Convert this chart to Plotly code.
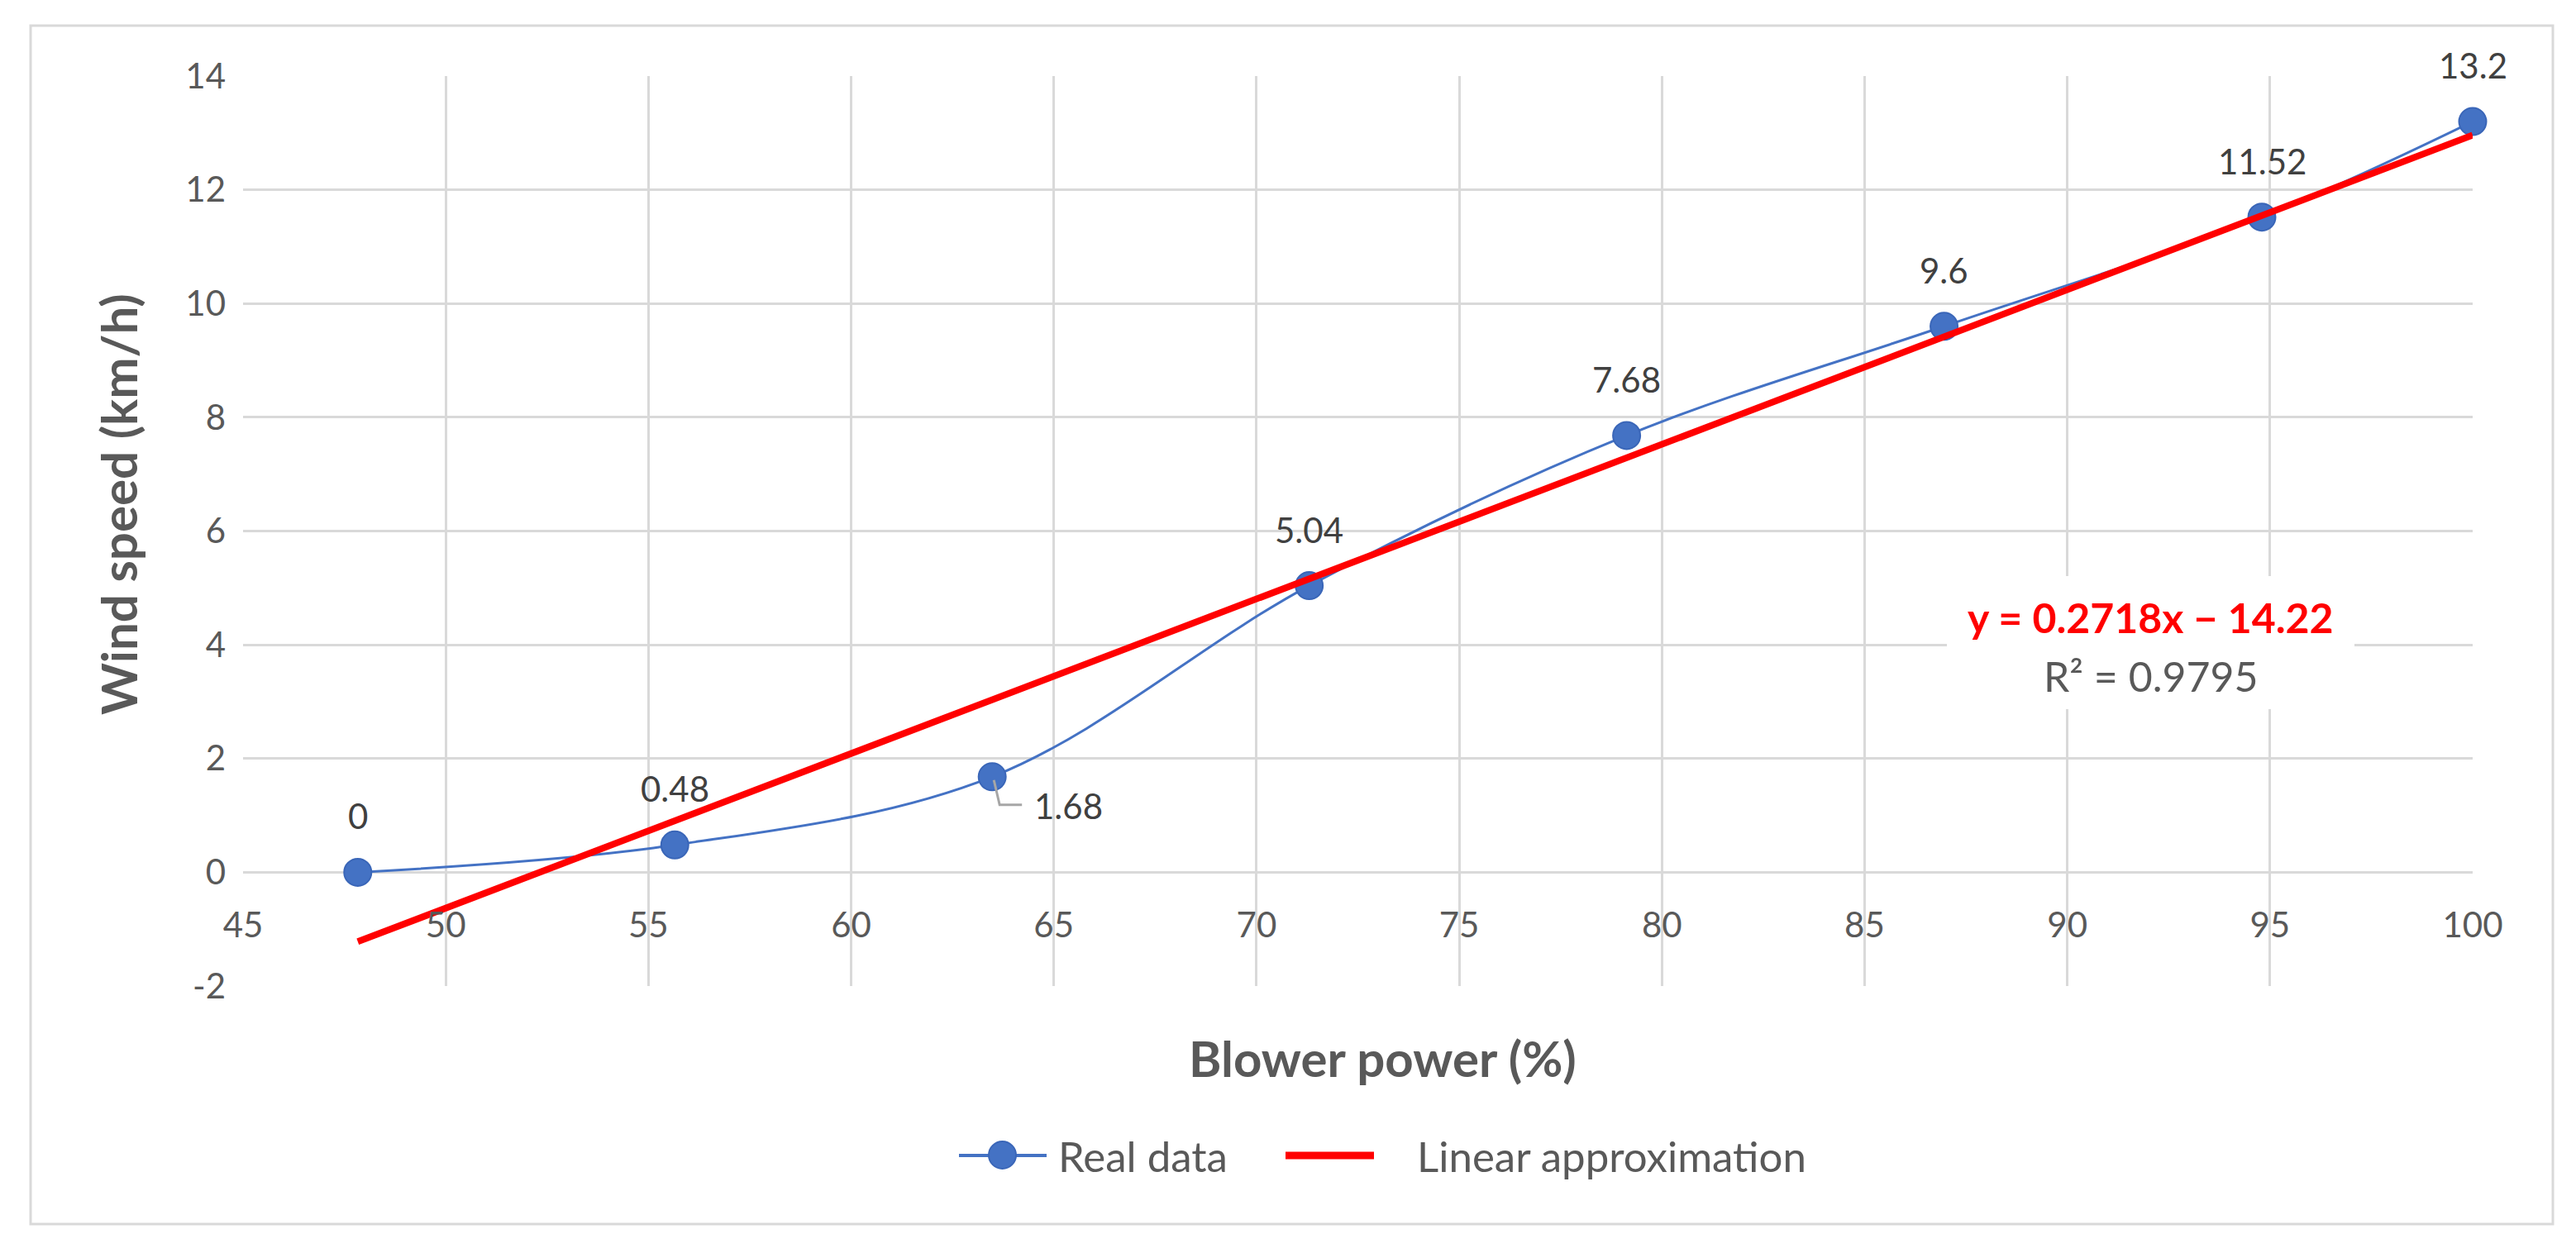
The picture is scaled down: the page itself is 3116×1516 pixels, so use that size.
import plotly.graph_objects as go

# ---------------- data ----------------
blower_power = [47.83, 55.65, 63.48, 71.30, 79.13, 86.96, 94.80, 100.0]
wind_speed = [0, 0.48, 1.68, 5.04, 7.68, 9.6, 11.52, 13.2]
trend_slope = 0.2718
trend_intercept = -14.22
trend_r2 = 0.9795
x_ticks = [45, 50, 55, 60, 65, 70, 75, 80, 85, 90, 95, 100]
y_ticks = [-2, 0, 2, 4, 6, 8, 10, 12, 14]
series_names = ["Real data", "Linear approximation"]
x_title = "Blower power (%)"
y_title = "Wind speed (km/h)"

# ---------------- layout geometry (pixels, page coordinates) ----------------
W, H = 3116, 1516
L, R, T, B = 294, 2991, 92, 1193
OFF = 8  # default body margin of the html page


def px(x):
    return (x - L) / (R - L)


def py(y):
    return (B - y) / (B - T)


FONT = "Lato"
GRID = "#D9D9D9"
TXT = "#595959"
BLUE = "#4472C4"
RED = "#FF0000"

fig = go.Figure()

# real data (smoothed line with markers)
fig.add_trace(go.Scatter(
    x=blower_power, y=wind_speed, mode="lines+markers",
    name=series_names[0], showlegend=False, cliponaxis=False,
    line=dict(color=BLUE, width=3, shape="spline", smoothing=1.0),
    marker=dict(size=33, color=BLUE, line=dict(color="#3A66B8", width=2)),
))

# linear approximation
tx = [min(blower_power), max(blower_power)]
ty = [trend_slope * v + trend_intercept for v in tx]
fig.add_trace(go.Scatter(
    x=tx, y=ty, mode="lines", name=series_names[1], showlegend=False,
    cliponaxis=False, line=dict(color=RED, width=8),
))

annotations = []
shapes = []

# data labels
for i, (xv, yv) in enumerate(zip(blower_power, wind_speed)):
    xs, ys = 0, 68
    if i == 2:
        xs, ys = 92, -35
    annotations.append(dict(
        x=xv, y=yv, xref="x", yref="y", text=f"{yv:g}", showarrow=False,
        xanchor="center", yanchor="middle",
        xshift=xs, yshift=ys, font=dict(family=FONT, size=42, color="#404040"),
    ))

# leader line for the offset label
shapes.append(dict(
    type="path", xref="x", yref="y", xsizemode="pixel", ysizemode="pixel",
    xanchor=blower_power[2], yanchor=wind_speed[2],
    path="M 2,-4 L 9,-34 L 36,-34", line=dict(color="#A6A6A6", width=3),
    layer="above",
))

# trendline label box and text
shapes.append(dict(
    type="rect", xref="paper", yref="paper",
    x0=px(2355), x1=px(2848), y0=py(858), y1=py(697),
    fillcolor="white", line=dict(width=0), layer="above",
))
sign = "−" if trend_intercept < 0 else "+"
annotations.append(dict(
    x=px(2601), y=py(747), xref="paper", yref="paper", showarrow=False,
    xanchor="center", yanchor="middle",
    text=f"<b>y = {trend_slope}x {sign} {abs(trend_intercept):g}</b>",
    font=dict(family=FONT, size=50, color=RED),
))
annotations.append(dict(
    x=px(2601), y=py(818), xref="paper", yref="paper", showarrow=False,
    xanchor="center", yanchor="middle",
    text=f"R² = {trend_r2}",
    font=dict(family=FONT, size=50, color=TXT),
))

# axis titles
annotations.append(dict(
    x=px(1672), y=py(1280), xref="paper", yref="paper", showarrow=False,
    xanchor="center", yanchor="middle",
    text=f"<b>{x_title}</b>", font=dict(family=FONT, size=60, color=TXT),
))
annotations.append(dict(
    x=px(143), y=py(610), xref="paper", yref="paper", showarrow=False,
    xanchor="center", yanchor="middle",
    text=f"<b>{y_title}</b>", textangle=-90,
    font=dict(family=FONT, size=60, color=TXT),
))

# custom legend
leg_y = py(1398)
shapes.append(dict(type="line", xref="paper", yref="paper",
                   x0=px(1160), x1=px(1266), y0=leg_y, y1=leg_y,
                   line=dict(color=BLUE, width=4)))
shapes.append(dict(type="circle", xref="paper", yref="paper",
                   x0=px(1196), x1=px(1229), y0=py(1414), y1=py(1381),
                   fillcolor=BLUE, line=dict(color="#3A66B8", width=2)))
shapes.append(dict(type="line", xref="paper", yref="paper",
                   x0=px(1555), x1=px(1662), y0=leg_y, y1=leg_y,
                   line=dict(color=RED, width=9)))
annotations.append(dict(
    x=px(1278), y=leg_y, xref="paper", yref="paper", showarrow=False,
    xanchor="left", yanchor="middle", text=series_names[0],
    font=dict(family=FONT, size=51, color=TXT),
))
annotations.append(dict(
    x=px(1712), y=leg_y, xref="paper", yref="paper", showarrow=False,
    xanchor="left", yanchor="middle", text=series_names[1],
    font=dict(family=FONT, size=51, color=TXT),
))

# outer chart border
shapes.append(dict(type="rect", xref="paper", yref="paper",
                   x0=px(37), x1=px(3088), y0=py(1481), y1=py(31),
                   line=dict(color=GRID, width=3), fillcolor="rgba(0,0,0,0)",
                   layer="below"))

zero_pos = (0 - y_ticks[0]) / (y_ticks[-1] - y_ticks[0])

fig.update_layout(
    width=W, height=H,
    margin=dict(l=L - OFF, r=W - R + OFF, t=T - OFF, b=H - B + OFF,
                autoexpand=False),
    paper_bgcolor="white", plot_bgcolor="white",
    showlegend=False,
    font=dict(family=FONT, color=TXT),
    annotations=annotations, shapes=shapes,
    xaxis=dict(
        range=[x_ticks[0], x_ticks[-1]], tickvals=x_ticks,
        ticktext=[f"{v:g}" for v in x_ticks],
        showgrid=True, gridcolor=GRID, gridwidth=3,
        zeroline=False, showline=False, ticks="",
        anchor="free", position=zero_pos,
        tickfont=dict(family=FONT, size=42, color=TXT),
        ticklabelstandoff=36,
    ),
    yaxis=dict(
        range=[y_ticks[0], y_ticks[-1]], tickvals=y_ticks,
        ticktext=[f"{v:g}" for v in y_ticks],
        showgrid=True, gridcolor=GRID, gridwidth=3,
        zeroline=False, showline=False, ticks="",
        tickfont=dict(family=FONT, size=42, color=TXT),
        ticklabelstandoff=20,
    ),
)

fig.write_html("out.html")
